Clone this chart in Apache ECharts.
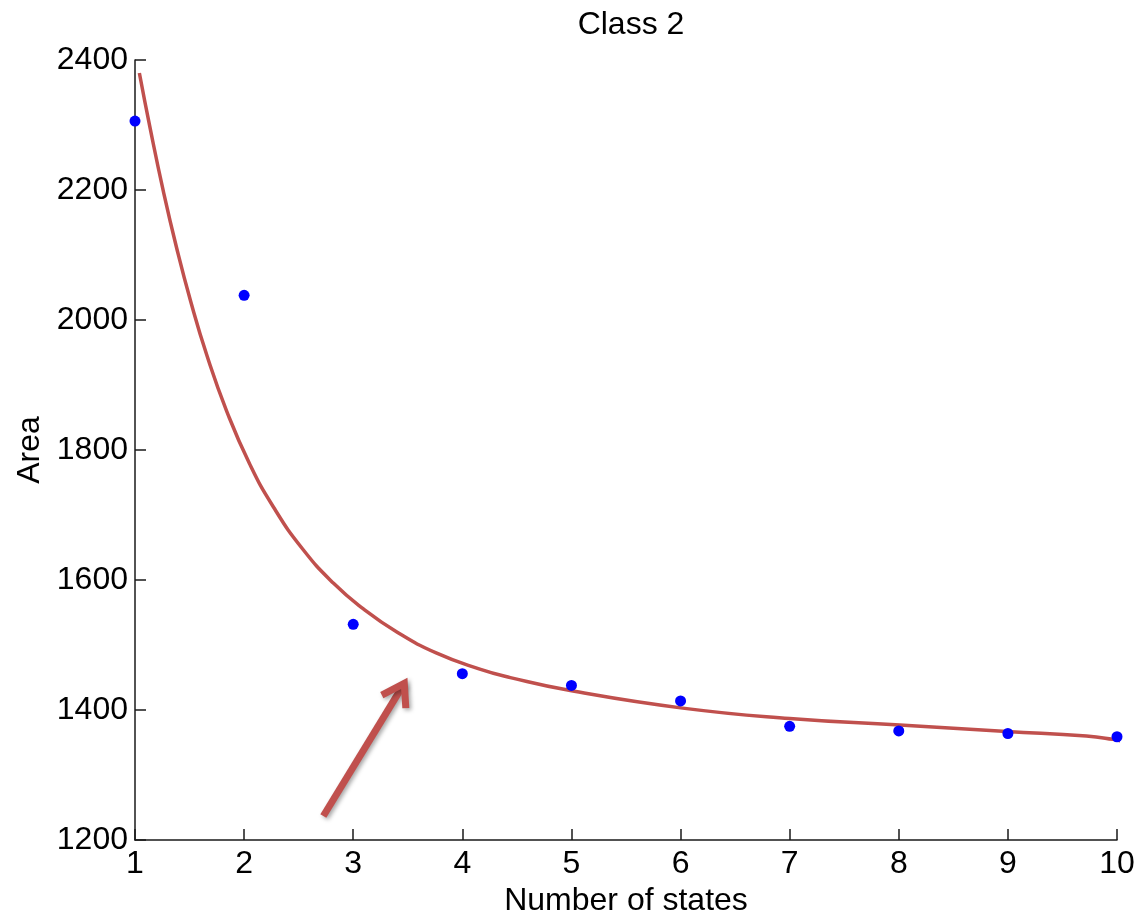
<!DOCTYPE html>
<html>
<head>
<meta charset="utf-8">
<title>Class 2</title>
<script src="https://cdn.jsdelivr.net/npm/echarts@6/dist/echarts.min.js"></script>
<style>
  html, body { margin: 0; padding: 0; background: #fff; }
  #chart { width: 1138px; height: 922px; }
</style>
</head>
<body>
<div id="chart"></div>
<script>
// measured points
const states = [1, 2, 3, 4, 5, 6, 7, 8, 9, 10];
const areaValues = [2306, 2038, 1532, 1456, 1438, 1414, 1375, 1368, 1364, 1359];

// fitted curve
const fitX = [1.04, 1.14, 1.26, 1.38, 1.51, 1.66, 1.84, 2.05, 2.27, 2.54, 2.82, 3.09,
              3.40, 3.76, 4.16, 4.44, 4.99, 6.02, 7.00, 8.01, 8.99, 9.72, 9.96, 10.08];
const fitY = [2380, 2294, 2198, 2112, 2029, 1945, 1860, 1779, 1712, 1647, 1595, 1556,
              1520, 1488, 1463, 1450, 1430, 1403, 1387, 1377, 1367, 1360, 1355, 1351];

// annotation arrow (data coords)
const arrowShaft = [[2.726, 1237], [3.468, 1441]];
const arrowHead = [[3.262, 1423], [3.468, 1441], [3.482, 1403]];

const yTicks = { min: 1200, max: 2400, step: 200 };

const FONT = '"Liberation Sans", Arial, Helvetica, sans-serif';
const RED = '#C0504D';

const initChart = function () {
  const myChart = echarts.init(document.getElementById('chart'));

  const axisCommon = {
    axisLine: { show: true, lineStyle: { color: '#1a1a1a', width: 1.5 } },
    axisTick: { show: true, inside: true, length: 11, lineStyle: { color: '#1a1a1a', width: 1.5 } },
    splitLine: { show: false },
    axisLabel: { color: '#000', fontSize: 32, fontFamily: FONT },
    nameTextStyle: { color: '#000', fontSize: 32, fontFamily: FONT }
  };

  const arrowStyle = {
    color: RED,
    width: 7,
    join: 'miter',
    cap: 'butt',
    shadowColor: 'rgba(0,0,0,0.35)',
    shadowBlur: 4,
    shadowOffsetX: 2,
    shadowOffsetY: 2
  };

  let option = {
    animation: false,
    backgroundColor: '#fff',
    title: {
      text: 'Class 2',
      left: 626,
      textAlign: 'center',
      top: 4,
      textStyle: { color: '#000', fontSize: 32, fontWeight: 'normal', fontFamily: FONT }
    },
    grid: { left: 135, top: 60, width: 982, height: 787, containLabel: false },
    xAxis: Object.assign({}, axisCommon, {
      type: 'value',
      min: 1,
      max: 10,
      interval: 1,
      name: 'Number of states',
      nameLocation: 'middle',
      nameGap: 40,
      axisLabel: Object.assign({}, axisCommon.axisLabel, { margin: 8 })
    }),
    yAxis: Object.assign({}, axisCommon, {
      type: 'value',
      min: yTicks.min,
      max: yTicks.max,
      interval: yTicks.step,
      name: 'Area',
      nameLocation: 'middle',
      nameGap: 86,
      axisLabel: Object.assign({}, axisCommon.axisLabel, {
        margin: 7,
        formatter: function (v) { return String(v); }
      })
    }),
    series: [
      {
        name: 'fit',
        type: 'line',
        data: fitX.map((x, i) => [x, fitY[i]]),
        smooth: 0.5,
        showSymbol: false,
        symbol: 'none',
        clip: false,
        lineStyle: { color: RED, width: 3.5 },
        z: 2
      },
      {
        name: 'area',
        type: 'scatter',
        data: states.map((s, i) => [s, areaValues[i]]),
        symbolSize: 11,
        itemStyle: { color: '#0000FF', opacity: 1 },
        clip: false,
        z: 3
      },
      {
        name: 'arrowShaft',
        type: 'line',
        data: arrowShaft,
        symbol: 'none',
        clip: false,
        lineStyle: arrowStyle,
        z: 4
      },
      {
        name: 'arrowHead',
        type: 'line',
        data: arrowHead,
        symbol: 'none',
        clip: false,
        lineStyle: arrowStyle,
        z: 4
      }
    ]
  };

  myChart.setOption(option);
};

window.addEventListener('load', function () {
  initChart();
});
</script>
</body>
</html>
